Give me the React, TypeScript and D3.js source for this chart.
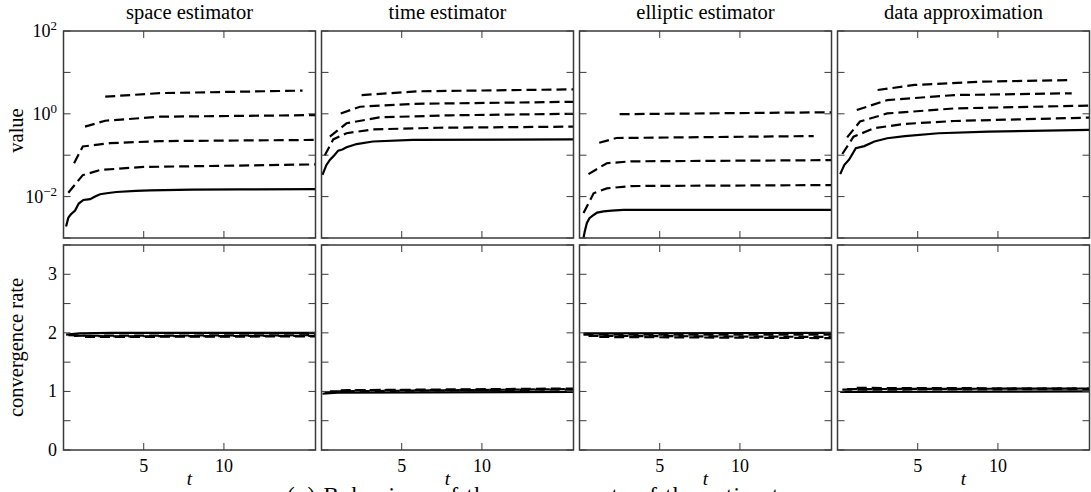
import * as d3 from "d3";

const width = 1091;
const height = 492;

const panelTitles = ["space estimator", "time estimator", "elliptic estimator", "data approximation"];
const tMax = 15.708;
const tTicks = [5, 10];
const valueTicks = [1e-3, 1e-2, 1e-1, 1, 10, 100];
const valueLabels = [
  { v: 100, e: "2" },
  { v: 1, e: "0" },
  { v: 1e-2, e: "−2" },
];
const rateTicks = [0, 0.5, 1, 1.5, 2, 2.5, 3, 3.5];
const rateLabels = [0, 1, 2, 3];

// top row: [solid, dashed...] as [t, value]
const spaceValue = [
  [[0.16, 0.0019], [0.3, 0.0031], [0.45, 0.0037], [0.72, 0.0046], [0.95, 0.0068], [1.24, 0.0083], [1.66, 0.0087], [2.0, 0.0102], [2.28, 0.0114], [2.8, 0.0122], [3.3, 0.0129], [4.5, 0.0137], [5.4, 0.0141], [8, 0.0147], [11, 0.015], [15.708, 0.0151]],
  [[0.3, 0.0124], [1.2, 0.033], [2.3, 0.044], [5, 0.052], [15.708, 0.06]],
  [[0.66, 0.064], [1.2, 0.162], [2.9, 0.195], [6, 0.219], [15.708, 0.234]],
  [[1.34, 0.49], [2.6, 0.68], [6, 0.85], [15.708, 0.93]],
  [[2.6, 2.59], [6, 3.16], [14.9, 3.63]],
];
const timeValue = [
  [[0.06, 0.0333], [0.3, 0.0575], [0.52, 0.0766], [0.8, 0.1], [1.04, 0.129], [1.3, 0.137], [1.56, 0.155], [2.19, 0.186], [3.2, 0.214], [5.7, 0.234], [15.708, 0.242]],
  [[0.2, 0.098], [0.73, 0.24], [1.56, 0.34], [3.2, 0.42], [7.3, 0.46], [15.708, 0.49]],
  [[0.52, 0.28], [1.56, 0.59], [3.6, 0.82], [8, 0.92], [15.708, 1.0]],
  [[1.2, 1.02], [2.4, 1.48], [5.7, 1.74], [15.708, 1.95]],
  [[2.5, 2.84], [6, 3.5], [15.708, 3.9]],
];
const ellipticValue = [
  [[0.25, 0.001], [0.32, 0.0014], [0.46, 0.0023], [0.62, 0.003], [0.88, 0.0036], [1.1, 0.0041], [1.5, 0.0044], [2.0, 0.0046], [2.75, 0.0048], [15.708, 0.0048]],
  [[0.25, 0.004], [0.88, 0.012], [1.7, 0.0158], [3.2, 0.018], [15.708, 0.019]],
  [[0.56, 0.035], [1.7, 0.064], [3.2, 0.071], [15.708, 0.076]],
  [[1.23, 0.2], [2.3, 0.26], [14.6, 0.29]],
  [[2.5, 0.98], [15.708, 1.09]],
];
const dataValue = [
  [[0.17, 0.035], [0.42, 0.058], [0.73, 0.079], [1.14, 0.148], [1.67, 0.166], [2.3, 0.214], [3.1, 0.257], [4.2, 0.288], [6.3, 0.339], [9.4, 0.37], [15.708, 0.41]],
  [[0.3, 0.107], [1.0, 0.28], [2.3, 0.45], [4.2, 0.57], [7.3, 0.67], [15.708, 0.81]],
  [[0.6, 0.27], [1.4, 0.65], [3.1, 1.02], [7.3, 1.35], [15.708, 1.58]],
  [[1.2, 1.23], [3.1, 2.14], [7.3, 2.84], [14.6, 3.13]],
  [[2.5, 3.76], [4.8, 4.97], [9, 5.97], [14.6, 6.55]],
];

// bottom row: convergence rates
const spaceRate = [
  [[0.16, 1.97], [1, 1.99], [3, 2.0], [15.708, 2.0]],
  [[0.3, 1.96], [2.6, 1.94], [15.708, 1.95]],
  [[0.66, 1.95], [15.708, 1.96]],
  [[1.34, 1.93], [15.708, 1.94]],
];
const timeRate = [
  [[0.06, 0.96], [1, 0.98], [15.708, 0.99]],
  [[0.2, 0.98], [2, 1.02], [15.708, 1.03]],
  [[0.52, 1.0], [15.708, 1.04]],
  [[1.2, 1.02], [15.708, 1.05]],
];
const ellipticRate = [
  [[0.25, 1.99], [15.708, 2.0]],
  [[0.25, 1.97], [15.708, 1.97]],
  [[0.56, 1.95], [15.708, 1.93]],
  [[1.23, 1.93], [15.708, 1.91]],
];
const dataRate = [
  [[0.17, 0.99], [15.708, 1.0]],
  [[0.3, 1.03], [15.708, 1.04]],
  [[0.6, 1.04], [15.708, 1.05]],
  [[1.2, 1.06], [15.708, 1.05]],
];

const valueSets = [spaceValue, timeValue, ellipticValue, dataValue];
const rateSets = [spaceRate, timeRate, ellipticRate, dataRate];

const font = "'Liberation Serif', 'Times New Roman', serif";
const left0 = 63.5;
const panelW = 252;
const stride = 258;
const topY = [31, 238];
const botY = [245, 450];
const tickLen = 7;
const frame = "#3a3a3a";

const yTop = d3.scaleLog().domain([1e-3, 1e2]).range([topY[1], topY[0]]);
const yBot = d3.scaleLinear().domain([0, 3.5]).range([botY[1], botY[0]]);

const Panel = ({ i, row }: { i: number; row: number }) => {
  const x0 = left0 + i * stride;
  const x = d3.scaleLinear().domain([0, tMax]).range([x0, x0 + panelW]);
  const y: any = row === 0 ? yTop : yBot;
  const [yb, yt] = row === 0 ? topY : botY;
  const series = row === 0 ? valueSets[i] : rateSets[i];
  const yTicks = row === 0 ? valueTicks : rateTicks;
  const line = d3
    .line<number[]>()
    .x((d) => x(d[0]))
    .y((d) => y(d[1]));
  const clipId = `clip-${row}-${i}`;
  return (
    <g>
      <clipPath id={clipId}>
        <rect x={x0} y={yb} width={panelW} height={yt - yb} />
      </clipPath>
      <g clipPath={`url(#${clipId})`}>
        {series.map((s, k) => (
          <path
            key={k}
            d={line(s as number[][]) || ""}
            fill="none"
            stroke="#000"
            strokeWidth={2.2}
            strokeDasharray={k === 0 ? undefined : "10,5"}
          />
        ))}
      </g>
      {tTicks.map((t) => (
        <g key={t} stroke={frame} strokeWidth={1}>
          <line x1={x(t)} x2={x(t)} y1={yb} y2={yb + tickLen} />
          <line x1={x(t)} x2={x(t)} y1={yt} y2={yt - tickLen} />
        </g>
      ))}
      {yTicks.map((v) => (
        <g key={v} stroke={frame} strokeWidth={1}>
          <line x1={x0} x2={x0 + tickLen} y1={y(v)} y2={y(v)} />
          <line x1={x0 + panelW} x2={x0 + panelW - tickLen} y1={y(v)} y2={y(v)} />
        </g>
      ))}
      <rect x={x0} y={yb} width={panelW} height={yt - yb} fill="none" stroke={frame} strokeWidth={1.5} />
      {row === 0 && (
        <text x={x0 + panelW / 2} y={19} textAnchor="middle" fontSize={20.5} fontFamily={font}>
          {panelTitles[i]}
        </text>
      )}
      {row === 1 && (
        <g fontFamily={font}>
          {tTicks.map((t) => (
            <text key={t} x={x(t)} y={472} textAnchor="middle" fontSize={18}>
              {t}
            </text>
          ))}
          <text x={x0 + panelW / 2} y={485} textAnchor="middle" fontSize={19} fontStyle="italic">
            t
          </text>
        </g>
      )}
    </g>
  );
};

export default function App() {
  return (
    <svg
      width={width}
      height={height}
      style={{ position: "absolute", left: 0, top: 0, background: "#fff" }}
    >
      {[0, 1].map((row) =>
        panelTitles.map((_, i) => <Panel key={`${row}-${i}`} i={i} row={row} />)
      )}
      <g fontFamily={font} fontSize={18}>
        {valueLabels.map((d) => (
          <text key={d.v} x={57} y={yTop(d.v) + 6} textAnchor="end">
            10
            <tspan dy={-7} fontSize={13}>
              {d.e}
            </tspan>
          </text>
        ))}
        {rateLabels.map((v) => (
          <text key={v} x={57} y={yBot(v) + 6} textAnchor="end">
            {v}
          </text>
        ))}
        <text transform={`translate(23,${(topY[0] + topY[1]) / 2 - 4}) rotate(-90)`} textAnchor="middle" fontSize={20.5}>
          value
        </text>
        <text transform={`translate(23,${(botY[0] + botY[1]) / 2}) rotate(-90)`} textAnchor="middle" fontSize={20.5}>
          convergence rate
        </text>
      </g>
      <text x={287} y={503} fontFamily={font} fontSize={23} textLength={513} lengthAdjust="spacing">
        (a) Behaviour of the components of the estimator
      </text>
    </svg>
  );
}
